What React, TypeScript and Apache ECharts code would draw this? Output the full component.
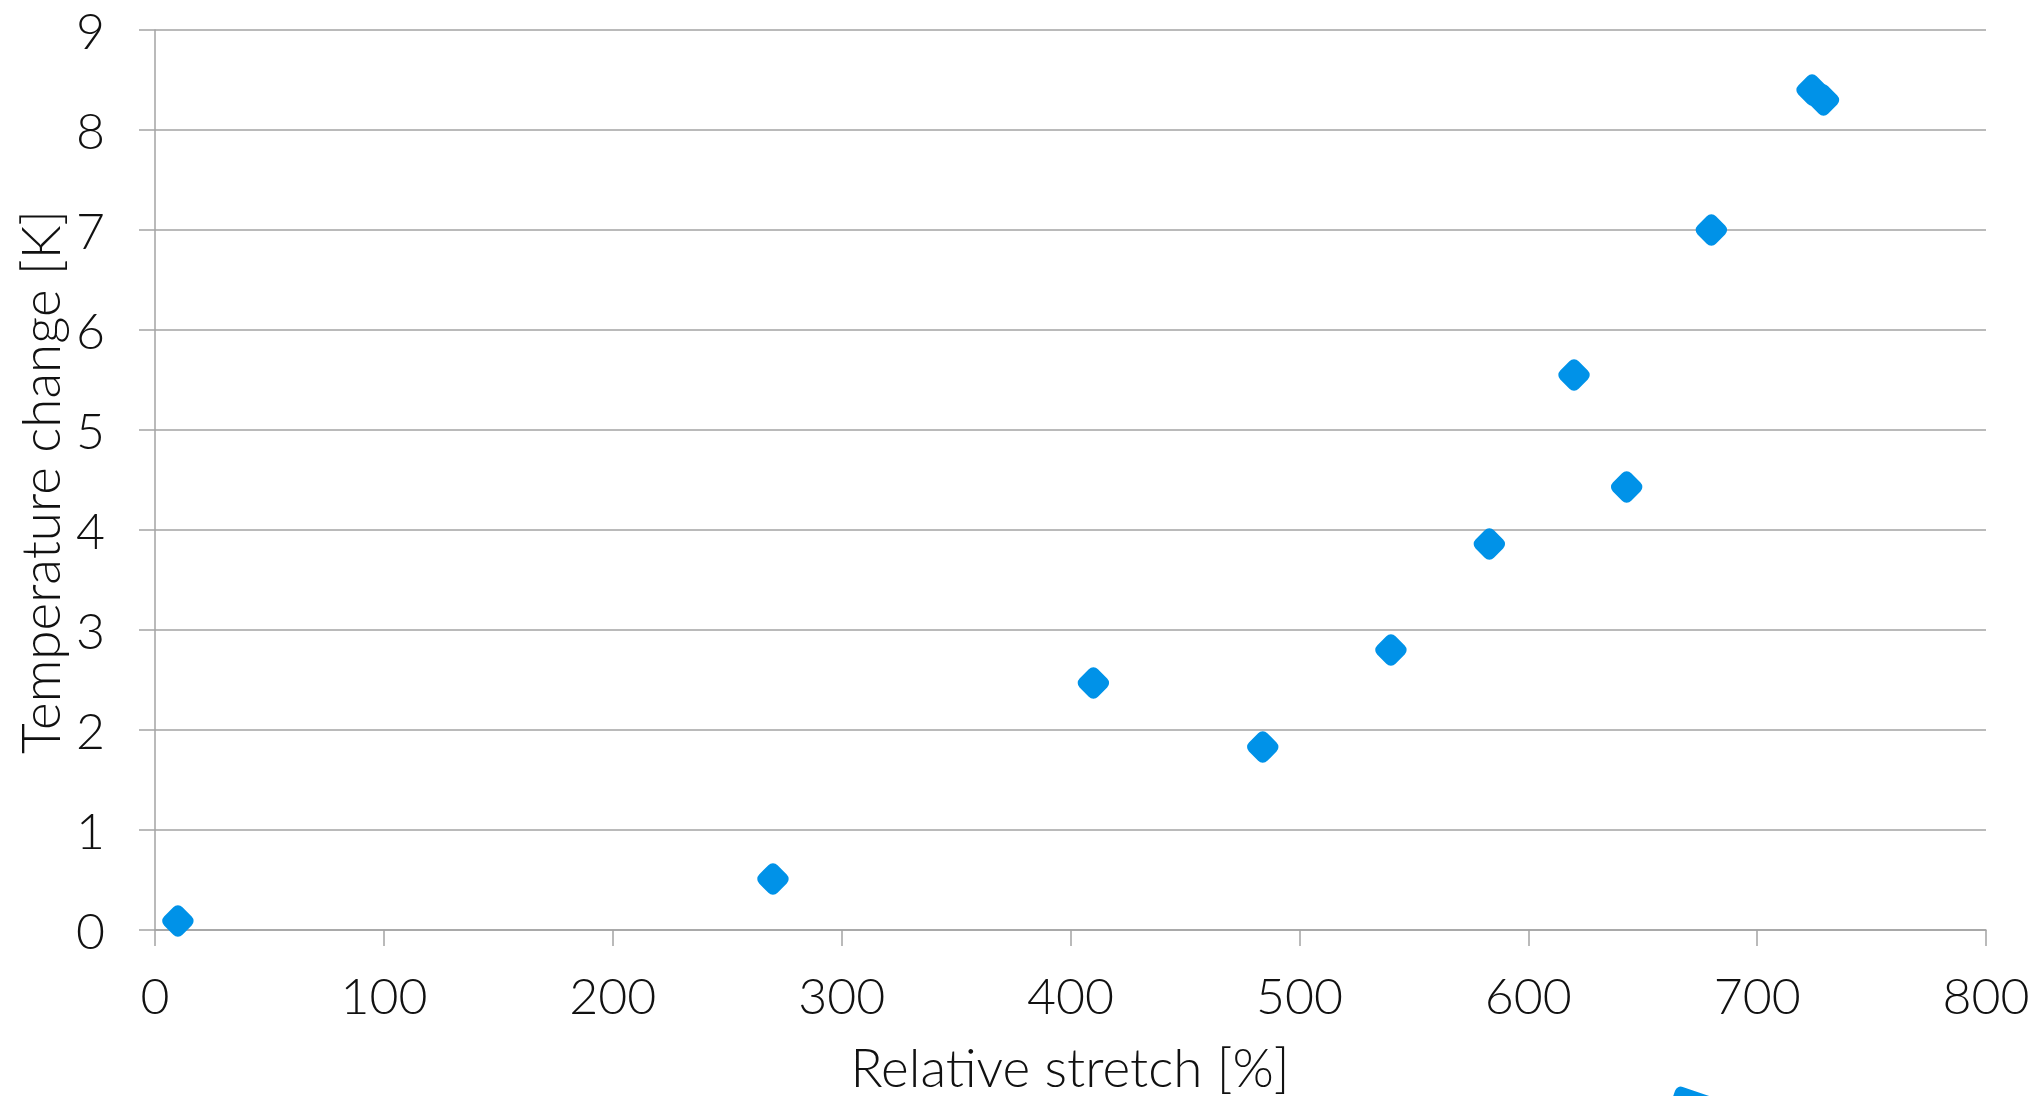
import React, { useEffect, useRef } from "react";
import * as echarts from "echarts";

const stretchValues = [10, 270, 410, 484, 540, 583, 620, 643, 680, 724, 729];
const temperatureValues = [0.09, 0.51, 2.47, 1.83, 2.8, 3.86, 5.55, 4.43, 7.0, 8.4, 8.3];
const xAxisTitle = "Relative stretch [%]";
const yAxisTitle = "Temperature change [K]";

const FONT = "Lato, 'Open Sans', sans-serif";

export default function App() {
  const ref = useRef<HTMLDivElement>(null);
  useEffect(() => {
    if (!ref.current) return;
    const chart = echarts.init(ref.current, undefined, { renderer: "svg" });
    const data = stretchValues.map((x, i) => [x, temperatureValues[i]]);
    chart.setOption({
      animation: false,
      backgroundColor: "#ffffff",
      grid: { left: 155, right: 57, top: 30, bottom: 166, containLabel: false },
      xAxis: {
        type: "value",
        min: 0,
        max: 800,
        interval: 100,
        axisLine: { show: true, lineStyle: { color: "#a3a3a3", width: 1.5 } },
        axisTick: { show: true, length: 16, lineStyle: { color: "#a3a3a3", width: 1.5 } },
        splitLine: { show: false },
        axisLabel: { color: "#111", fontSize: 50, fontFamily: FONT, fontWeight: 300, margin: 40 },
      },
      yAxis: {
        type: "value",
        min: 0,
        max: 9,
        interval: 1,
        axisLine: { show: true, lineStyle: { color: "#a3a3a3", width: 1.5 } },
        axisTick: { show: true, length: 16, lineStyle: { color: "#a3a3a3", width: 1.5 } },
        splitLine: { show: true, lineStyle: { color: "#a3a3a3", width: 1.5 } },
        axisLabel: { color: "#111", fontSize: 50, fontFamily: FONT, fontWeight: 300, margin: 50 },
      },
      series: [
        {
          type: "scatter",
          data,
          symbol: "roundRect",
          symbolSize: 26,
          symbolRotate: 45,
          itemStyle: { color: "#0092E8", opacity: 1 },
        },
      ],
      graphic: [
        {
          type: "text",
          x: 1070,
          y: 1066,
          style: {
            text: xAxisTitle,
            fontSize: 53,
            lineHeight: 48,
            fontFamily: FONT,
            fontWeight: 300,
            fill: "#111",
            align: "center",
            verticalAlign: "middle",
          },
        },
        {
          type: "text",
          x: 39,
          y: 482,
          rotation: Math.PI / 2,
          style: {
            text: yAxisTitle,
            fontSize: 53,
            fontFamily: FONT,
            fontWeight: 300,
            fill: "#111",
            align: "center",
            verticalAlign: "middle",
          },
        },
        {
          type: "rect",
          x: 1677,
          y: 1085,
          rotation: -0.33,
          shape: { x: 0, y: 0, width: 60, height: 40, r: 6 },
          style: { fill: "#0092E8" },
        },
      ],
    });
    return () => chart.dispose();
  }, []);
  return (
    <div
      ref={ref}
      style={{ position: "fixed", left: 0, top: 0, width: 2043, height: 1096, background: "#fff" }}
    />
  );
}
